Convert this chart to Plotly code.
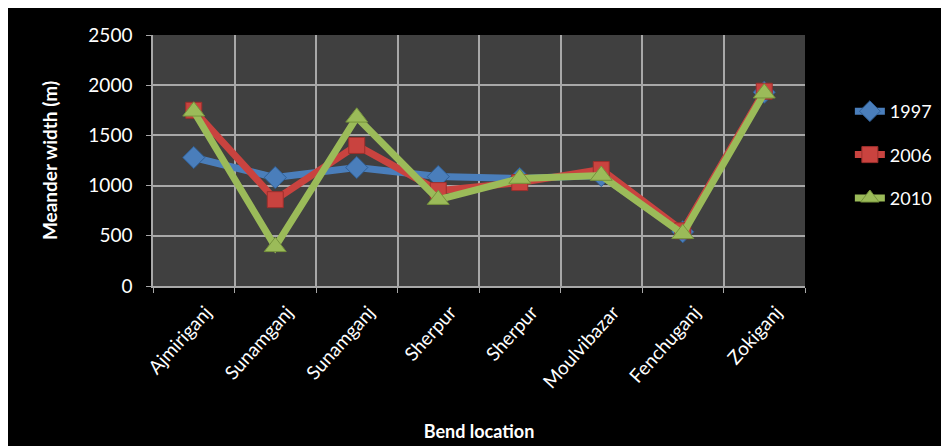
import plotly.graph_objects as go

categories = ["Ajmiriganj", "Sunamganj", "Sunamganj ", "Sherpur", "Sherpur ",
              "Moulvibazar", "Fenchuganj", "Zokiganj"]
tick_labels = ["Ajmiriganj", "Sunamganj", "Sunamganj", "Sherpur", "Sherpur",
               "Moulvibazar", "Fenchuganj", "Zokiganj"]
w1997 = [1280, 1080, 1180, 1090, 1070, 1100, 540, 1930]
w2006 = [1750, 860, 1400, 950, 1030, 1160, 550, 1940]
w2010 = [1740, 390, 1680, 860, 1070, 1100, 520, 1920]

# page has an 8px body margin, so the figure is offset by 8px
W, H = 941, 438
L, R, T, B = 145, 142, 27, 160
pw, ph = W - L - R, H - T - B

def px_x(p):
    return (p - L) / pw

def px_y(p):
    return (H - B - p) / ph

font = "Lato, Open Sans, sans-serif"

fig = go.Figure()
series = [
    ("1997", w1997, "#4a7ebb", "#2f5f96", "diamond", 17),
    ("2006", w2006, "#c9433f", "#9c2f2c", "square", 16),
    ("2010", w2010, "#9bbb59", "#76933c", "triangle-up", 19),
]
for name, vals, col, dark, sym, sz in series:
    fig.add_trace(go.Scatter(
        x=categories, y=vals, name=name, mode="lines+markers",
        legendgroup=name,
        line=dict(color=col, width=7),
        marker=dict(symbol=sym, size=sz, color=col, line=dict(color=dark, width=1)),
    ))

fig.update_layout(
    width=W, height=H,
    margin=dict(l=L, r=R, t=T, b=B),
    paper_bgcolor="#000000",
    plot_bgcolor="#404040",
    font=dict(family=font, color="#ffffff", size=17),
    showlegend=True,
    legend=dict(
        x=px_x(844), y=px_y(85), xanchor="left", yanchor="top",
        bgcolor="rgba(0,0,0,0)", font=dict(size=18, color="#ffffff"),
        traceorder="grouped", tracegroupgap=17,
    ),
    xaxis=dict(
        type="category", tickson="boundaries", showgrid=True,
        gridcolor="#a8a8a8", gridwidth=1.5, automargin=False,
        tickvals=categories, ticktext=tick_labels,
        tickangle=-48, tickfont=dict(size=19, color="#ffffff"),
        ticks="outside", ticklen=5, tickcolor="#a8a8a8",
        ticklabelstandoff=6, ticklabelshift=12,
        showline=True, linecolor="#a8a8a8", linewidth=1.5,
        range=[-0.5, 7.5],
        title=dict(text="<b>Bend location</b>", font=dict(size=18), standoff=34),
    ),
    yaxis=dict(
        range=[0, 2500], dtick=500, showgrid=True,
        gridcolor="#a8a8a8", gridwidth=1.5, automargin=False,
        tickfont=dict(size=19, color="#ffffff"),
        ticks="outside", ticklen=5, tickcolor="#a8a8a8",
        ticklabelstandoff=10,
        showline=True, linecolor="#a8a8a8", linewidth=1.5,
        zeroline=False,
        title=dict(text="<b>Meander width (m)</b>", font=dict(size=19), standoff=26),
    ),
)

fig.write_html("out.html")
